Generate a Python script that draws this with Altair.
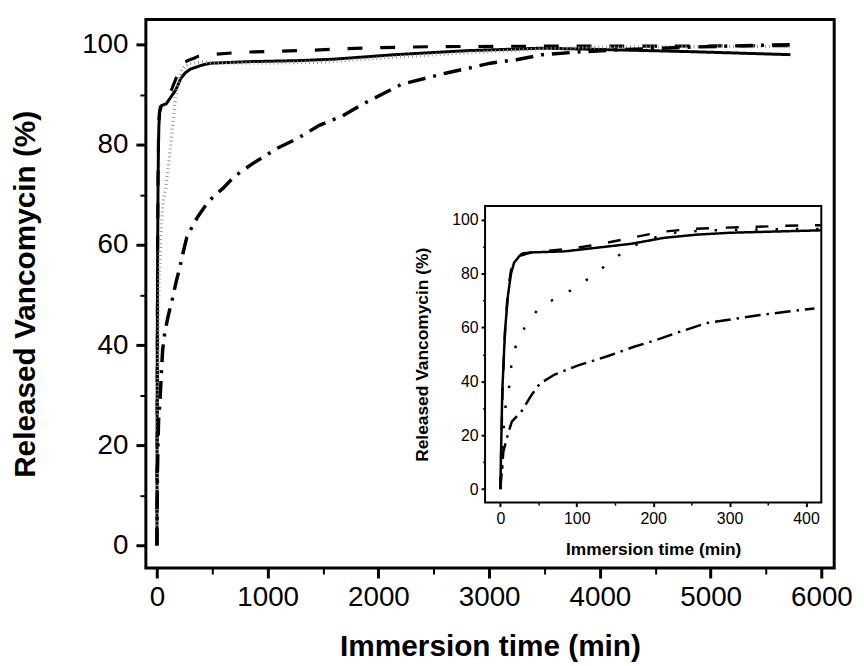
import altair as alt
import pandas as pd

# ---------------- data ----------------
series_names = ["solid", "dashed", "dotted", "dashdot"]

t_solid = [0, 2.5, 5, 6.5, 10, 14, 18, 25, 40, 84, 128, 171, 214, 257, 301, 366, 420,
           490, 600, 820, 1260, 1600, 2150, 2800, 3480, 4080, 4820, 5720]
v_solid = [0, 36, 52, 60, 72, 80, 84, 86.5, 87.8, 88.2, 89.6, 91, 93.2, 94.4, 95.1, 95.6, 96,
           96.3, 96.4, 96.6, 96.8, 97.1, 98, 98.8, 99.3, 99, 98.6, 98]

t_dashed = [0, 3, 6, 10, 15, 20, 30, 60, 100, 132, 171, 210, 249, 296, 335, 374, 420,
            462, 788, 1100, 1410, 1707, 2018, 2500, 3500, 4500, 5720]
v_dashed = [0, 38, 58, 74, 83, 86, 87.5, 88.3, 89.5, 91, 93.2, 95.4, 96.5, 97, 97.3, 97.7, 97.9,
            98, 98.5, 98.7, 98.9, 99.2, 99.4, 99.6, 99.7, 99.7, 99.8]

t_dotted = [0, 3, 5, 10, 13, 15, 23, 36, 54, 78, 103, 127, 151, 175, 200, 224, 260, 300, 350, 420,
            600, 1000, 1500, 2000, 2500, 3000, 3500, 4000, 5000, 5720]
v_dotted = [0, 10, 28, 35, 41, 48.5, 55.4, 62, 68.3, 71.3, 75.6, 80.5, 86, 90.3, 93.2, 95, 95.8, 96.2, 96.4, 96.5,
            96.3, 96.3, 96.5, 97.3, 98, 98.6, 99.2, 99.5, 99.6, 99.6]

t_dashdot = [0, 4, 10.5, 15, 28, 41, 52, 71, 101, 140, 175, 205, 231, 270, 305, 340, 374, 411,
             460, 595, 700, 847, 1085, 1262, 1467, 1677, 1855, 2033, 2210, 2445, 2625, 2833, 3010,
             3245, 3485, 3780, 4200, 4800, 5300, 5720]
v_dashdot = [0, 14, 21, 25, 29, 35, 39.2, 42.5, 45.8, 49.3, 52.8, 55.4, 58, 61.6, 63.1, 64.6, 65.8, 67,
             68.6, 71.3, 73.7, 76, 79.3, 81.2, 83.9, 85.8, 88.1, 90.1, 92.1, 93.4, 94.4, 95.4, 96.3,
             97, 98, 98.5, 99, 99.5, 99.8, 100]

main_x_ticks = [0, 1000, 2000, 3000, 4000, 5000, 6000]
main_x_minor = [500, 1500, 2500, 3500, 4500, 5500]
main_y_ticks = [0, 20, 40, 60, 80, 100]
main_y_minor = [10, 30, 50, 70, 90]
inset_x_ticks = [0, 100, 200, 300, 400]
inset_x_minor = [50, 150, 250, 350]
inset_y_ticks = [0, 20, 40, 60, 80, 100]
inset_y_minor = [10, 30, 50, 70, 90]
inset_max_t = 420

main_x_domain = [-100, 6115]
main_y_domain = [-4.5, 105]
inset_x_domain = [-20, 420]
inset_y_domain = [-5, 105]

x_title = "Immersion time (min)"
y_title = "Released Vancomycin (%)"

# ---------------- tables ----------------
frames = []
for name, t, v in zip(series_names,
                      [t_solid, t_dashed, t_dotted, t_dashdot],
                      [v_solid, v_dashed, v_dotted, v_dashdot]):
    frames.append(pd.DataFrame({"t": t, "v": v, "s": name}))
df = pd.concat(frames, ignore_index=True)
df_in = df[df["t"] <= inset_max_t]
df_box = pd.DataFrame({"x0": [inset_x_domain[0]], "x1": [inset_x_domain[1]],
                       "y0": [inset_y_domain[0]], "y1": [inset_y_domain[1]]})
df_mainbox = pd.DataFrame({"x0": [main_x_domain[0]], "x1": [main_x_domain[1]],
                           "y0": [main_y_domain[0]], "y1": [main_y_domain[1]]})

# ---------------- layout ----------------
W, H = 694, 553
FONT = "Liberation Sans"
IX = [342, 681]   # inset x pixel range inside plot
IY = [487, 188]   # inset y pixel range inside plot

xs = alt.Scale(domain=main_x_domain, nice=False, zero=False)
ys = alt.Scale(domain=main_y_domain, nice=False, zero=False)
xi = alt.Scale(domain=inset_x_domain, range=IX, nice=False, zero=False)
yi = alt.Scale(domain=inset_y_domain, range=IY, nice=False, zero=False)

common = dict(labelFont=FONT, titleFont=FONT, labelColor="black", titleColor="black",
              tickColor="black", grid=False, domain=False, format="d")

main = alt.Chart(df).mark_line(clip=True).encode(
    x=alt.X("t:Q", scale=xs, axis=alt.Axis(
        orient="bottom", values=main_x_ticks, title=x_title, labelFontSize=28,
        tickSize=10, tickWidth=3, labelPadding=6, titleFontSize=30, titleFontWeight="bold",
        titlePadding=20, **common)),
    y=alt.Y("v:Q", scale=ys, axis=alt.Axis(
        orient="left", values=main_y_ticks, title=y_title, labelFontSize=28,
        tickSize=10, tickWidth=3, labelPadding=8, titleFontSize=30, titleFontWeight="bold",
        titlePadding=42, **common)),
    detail="s:N",
    color=alt.Color("s:N", scale=alt.Scale(domain=series_names,
                    range=["black", "black", "#9a9a9a", "black"]), legend=None),
    strokeDash=alt.StrokeDash("s:N", scale=alt.Scale(domain=series_names,
                    range=[[1, 0], [15, 18], [1, 3], [18, 8, 3, 8]]), legend=None),
    strokeWidth=alt.StrokeWidth("s:N", scale=alt.Scale(domain=series_names,
                    range=[3, 3.5, 2.5, 3.5]), legend=None),
    order=alt.Order("t:Q"),
)

main_frame = alt.Chart(df_mainbox).mark_rect(fill=None, stroke="black", strokeWidth=3).encode(
    x=alt.X("x0:Q", scale=xs, axis=alt.Axis(orient="bottom", values=main_x_minor, labels=False,
            title=None, tickSize=6, tickWidth=2, **common)),
    x2="x1:Q",
    y=alt.Y("y0:Q", scale=ys, axis=alt.Axis(orient="left", values=main_y_minor, labels=False,
            title=None, tickSize=6, tickWidth=2, **common)),
    y2="y1:Q",
)

inset_box = alt.Chart(df_box).mark_rect(fill="white", stroke="black", strokeWidth=2).encode(
    x=alt.X("x0:Q", scale=xi, axis=alt.Axis(orient="bottom", offset=-(H - IY[0]),
            values=inset_x_minor, labels=False, title=None, tickSize=2.5, tickWidth=1.5,
            zindex=1, **common)),
    x2="x1:Q",
    y=alt.Y("y0:Q", scale=yi, axis=alt.Axis(orient="left", offset=-IX[0],
            values=inset_y_minor, labels=False, title=None, tickSize=2.5, tickWidth=1.5,
            zindex=1, **common)),
    y2="y1:Q",
)

inset = alt.Chart(df_in).mark_line(color="black").encode(
    x=alt.X("t:Q", scale=xi, axis=alt.Axis(
        orient="bottom", offset=-(H - IY[0]), values=inset_x_ticks, title=x_title,
        labelFontSize=16, tickSize=4, tickWidth=2, labelPadding=4, titleFontSize=17.5,
        titleFontWeight="bold", titlePadding=14, zindex=1, **common)),
    y=alt.Y("v:Q", scale=yi, axis=alt.Axis(
        orient="left", offset=-IX[0], values=inset_y_ticks, title=y_title,
        labelFontSize=16, tickSize=4, tickWidth=2, labelPadding=3, titleFontSize=17.5,
        titleFontWeight="bold", titlePadding=20, zindex=1, **common)),
    detail="s:N",
    strokeDash=alt.StrokeDash("s:N", scale=alt.Scale(domain=series_names,
                    range=[[1, 0], [13, 17], [2.5, 18], [16, 6, 2.5, 6]]), legend=None),
    strokeWidth=alt.StrokeWidth("s:N", scale=alt.Scale(domain=series_names,
                    range=[2.5, 2.5, 2.5, 2.5]), legend=None),
    order=alt.Order("t:Q"),
)

chart = alt.layer(main, main_frame, inset_box, inset).resolve_scale(
    x="independent", y="independent", strokeDash="independent",
    strokeWidth="independent", color="independent",
).properties(
    width=W, height=H,
    autosize=alt.AutoSizeParams(type="none"),
    padding={"left": 139, "top": 9, "right": 22, "bottom": 92},
).configure_view(stroke=None).configure(background="white")

chart.save("out.html", embed_options={"renderer": "svg", "actions": False})
